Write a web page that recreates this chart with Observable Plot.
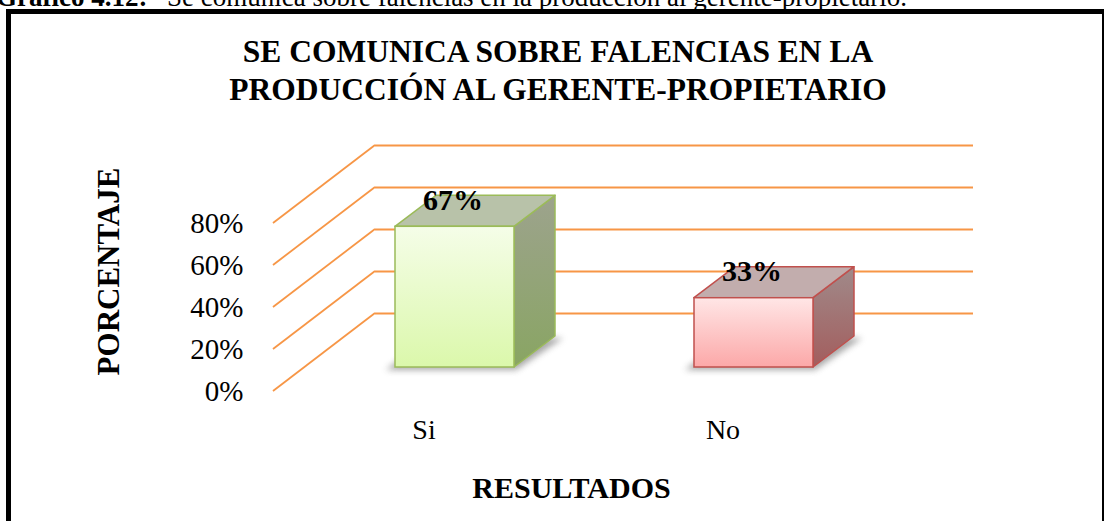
<!DOCTYPE html>
<html>
<head>
<meta charset="utf-8">
<script src="https://cdn.jsdelivr.net/npm/d3@7"></script>
<script src="https://cdn.jsdelivr.net/npm/@observablehq/plot@0.6"></script>
<style>
html, body { margin: 0; padding: 0; background: #fff; }
#wrap { position: relative; width: 1104px; height: 521px; overflow: hidden; font-family: "Liberation Serif", "Times New Roman", serif; color: #000; }
#caption { position: absolute; left: -4px; top: -16px; font-size: 27px; line-height: 27px; white-space: nowrap; }
#caption .rest { position: absolute; left: 171px; top: 0; }
#frame { position: absolute; left: 6px; top: 9px; width: 1101px; height: 540px; border: 5px solid #000; box-sizing: border-box; }
#title { position: absolute; left: 0; width: 1116px; top: 33px; text-align: center; font-weight: bold; font-size: 31.5px; line-height: 38px; }
#chart { position: absolute; left: 0; top: 0; }
</style>
</head>
<body>
<div id="wrap">
  <div id="caption"><b>Gráfico 4.12:</b><span class="rest">Se comunica sobre falencias en la producción al gerente-propietario.</span></div>
  <div id="frame"></div>
  <div id="title">SE COMUNICA SOBRE FALENCIAS EN LA<br>PRODUCCIÓN AL GERENTE-PROPIETARIO</div>
  <div id="chart"></div>
</div>
<script>
// ---- data ----
const categories = ["Si", "No"];
const values = [67, 33];
const yTicks = [0, 20, 40, 60, 80];
const xTitle = "RESULTADOS";
const yTitle = "PORCENTAJE";

// ---- style ----
const GRID = "#f79646";
const BACK = {dx: 70, dy: -54};     // back wall offset from bar front plane (px)
const FRONT = {dx: -32, dy: 24};    // floor front edge offset (px)
const DEPTH = {dx: 41, dy: -31};    // bar depth (px)
const palette = {
  Si: {stroke: "#9bbb59", top: "#b8c2a9", front: ["#f5fde8", "#dbf8ab"], side: ["#9da38d", "#89a563"]},
  No: {stroke: "#c0504d", top: "#c2adad", front: ["#ffe6e6", "#fca8a8"], side: ["#a08a8a", "#a35d5d"]}
};

const data = categories.map((cat, i) => ({cat, value: values[i], id: "c" + i}));

function sideWall(index, scales, vals, dims) {
  const y = scales.y, ml = dims.marginLeft;
  const g = d3.create("svg:g").attr("stroke", GRID).attr("stroke-width", 1.8).attr("fill", "none");
  yTicks.forEach(v => {
    g.append("line")
      .attr("x1", ml + BACK.dx).attr("y1", y(v) + BACK.dy)
      .attr("x2", ml + FRONT.dx).attr("y2", y(v) + FRONT.dy);
  });
  return g.node();
}

function barDepth(index, scales) {
  const x = scales.x, y = scales.y, bw = x.bandwidth();
  const g = d3.create("svg:g");
  const pts = a => a.map(p => p.join(",")).join(" ");
  data.forEach(d => {
    const x0 = x(d.cat), x1 = x0 + bw, yb = y(0);
    g.append("polygon")
      .attr("points", pts([[x0 - 9, yb + 3], [x1 + 2, yb + 3], [x1 + DEPTH.dx + 8, yb + DEPTH.dy + 2], [x0 + DEPTH.dx - 9, yb + DEPTH.dy + 2]]))
      .attr("fill", "#6f6f6f").attr("opacity", 0.6).attr("filter", "url(#shadowBlur)");
  });
  data.forEach(d => {
    const p = palette[d.cat];
    const x0 = x(d.cat), x1 = x0 + bw, yt = y(d.value), yb = y(0);
    g.append("polygon")
      .attr("points", pts([[x1, yt], [x1 + DEPTH.dx, yt + DEPTH.dy], [x1 + DEPTH.dx, yb + DEPTH.dy], [x1, yb]]))
      .attr("fill", `url(#side-${d.id})`).attr("stroke", p.stroke).attr("stroke-width", 1.5).attr("stroke-linejoin", "round");
    g.append("polygon")
      .attr("points", pts([[x0, yt], [x1, yt], [x1 + DEPTH.dx, yt + DEPTH.dy], [x0 + DEPTH.dx, yt + DEPTH.dy]]))
      .attr("fill", p.top).attr("stroke", p.stroke).attr("stroke-width", 1.5).attr("stroke-linejoin", "round");
  });
  return g.node();
}

const plot = Plot.plot({
  width: 1104,
  height: 521,
  marginLeft: 305,
  marginRight: 201,
  marginTop: 199,
  marginBottom: 154,
  x: {domain: categories, paddingInner: 0.602, paddingOuter: 0.301, label: null},
  y: {domain: [0, 80], label: null},
  color: {type: "identity"},
  style: {fontFamily: "'Liberation Serif', 'Times New Roman', serif", background: "transparent", color: "#000", overflow: "visible"},
  marks: [
    Plot.ruleY(yTicks, {y: d => d, dx: BACK.dx, dy: BACK.dy, stroke: GRID, strokeWidth: 1.8}),
    sideWall,
    barDepth,
    Plot.barY(data, {
      x: "cat", y: "value",
      fill: d => `url(#front-${d.id})`,
      stroke: d => palette[d.cat].stroke,
      strokeWidth: 1.5
    }),
    Plot.text(data, {
      x: "cat", y: "value", text: d => d.value + "%",
      lineAnchor: "bottom", dy: -17, dx: -2,
      fontSize: 30, fontWeight: "bold", fill: "#000"
    }),
    Plot.axisY({ticks: yTicks, tickFormat: d => d + "%", tickSize: 0, tickPadding: 0, dx: -62, dy: 24, fontSize: 29, label: null}),
    Plot.axisX({tickSize: 0, tickPadding: 0, dx: -31, dy: 52, fontSize: 28, label: null}),
    Plot.text([xTitle], {text: d => d, frameAnchor: "bottom", textAnchor: "middle", lineAnchor: "bottom", dx: -33, dy: 130, fontSize: 30, fontWeight: "bold", fill: "#000"}),
    Plot.text([yTitle], {text: d => d, frameAnchor: "left", textAnchor: "middle", lineAnchor: "middle", rotate: -90, dx: -196, dy: -12, fontSize: 31, fontWeight: "bold", fill: "#000"})
  ]
});

// gradients and shadow filter
const svg = d3.select(plot);
const defs = svg.insert("defs", ":first-child");
data.forEach(d => {
  const p = palette[d.cat];
  const gf = defs.append("linearGradient").attr("id", `front-${d.id}`).attr("x1", 0).attr("y1", 0).attr("x2", 0).attr("y2", 1);
  gf.append("stop").attr("offset", "0%").attr("stop-color", p.front[0]);
  gf.append("stop").attr("offset", "100%").attr("stop-color", p.front[1]);
  const gs = defs.append("linearGradient").attr("id", `side-${d.id}`).attr("x1", 0).attr("y1", 0).attr("x2", 0).attr("y2", 1);
  gs.append("stop").attr("offset", "0%").attr("stop-color", p.side[0]);
  gs.append("stop").attr("offset", "100%").attr("stop-color", p.side[1]);
});
defs.append("filter").attr("id", "shadowBlur").attr("x", "-20%").attr("y", "-50%").attr("width", "140%").attr("height", "200%")
  .append("feGaussianBlur").attr("stdDeviation", 3);

document.getElementById("chart").appendChild(plot);
</script>
</body>
</html>
